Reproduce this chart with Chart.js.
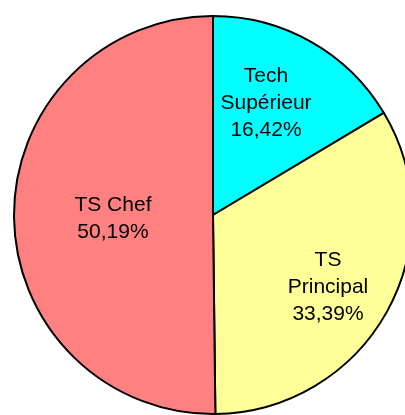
<!DOCTYPE html>
<html>
<head>
<meta charset="utf-8">
<script src="https://cdn.jsdelivr.net/npm/chart.js@4/dist/chart.umd.min.js"></script>
<style>
  html, body { margin: 0; padding: 0; background: #fff; overflow: hidden; }
  #wrap { position: absolute; left: 0; top: 0; }
</style>
</head>
<body>
<div id="wrap"><canvas id="chart" width="426" height="430"></canvas></div>
<script>
// categories, clockwise from 12 o'clock
const categories = ['Tech Supérieur', 'TS Principal', 'TS Chef'];
const labelLines = [['Tech', 'Supérieur'], ['TS', 'Principal'], ['TS Chef']];
const percentages = [16.42, 33.39, 50.19];
const sliceColors = ['#00FFFF', '#FFFF99', '#FF8080'];

// where each label sits: fraction of radius and small angle shift (degrees)
const labelRadius = [0.62, 0.683, 0.503];
const labelShift = [-4.1, 3.0, -1.7];

const pieLabels = {
    id: 'pieLabels',
    afterDatasetsDraw(chart) {
        const ctx = chart.ctx;
        const meta = chart.getDatasetMeta(0);
        ctx.save();
        ctx.fillStyle = '#000';
        ctx.font = '21px "Liberation Sans", Arial, sans-serif';
        ctx.textAlign = 'center';
        ctx.textBaseline = 'middle';
        const lineH = 27;
        meta.data.forEach((arc, i) => {
            const mid = (arc.startAngle + arc.endAngle) / 2 + labelShift[i] * Math.PI / 180;
            const r = arc.outerRadius * labelRadius[i];
            const cx = arc.x + Math.cos(mid) * r;
            const cy = arc.y + Math.sin(mid) * r;
            const lines = labelLines[i].concat([percentages[i].toFixed(2).replace('.', ',') + '%']);
            const top = cy - (lines.length - 1) * lineH / 2;
            lines.forEach((t, k) => ctx.fillText(t, cx, top + k * lineH));
        });
        ctx.restore();
    }
};

new Chart(document.getElementById('chart'), {
    type: 'pie',
    data: {
        labels: categories,
        datasets: [{
            data: percentages,
            backgroundColor: sliceColors,
            borderColor: '#000',
            borderWidth: 2,
            radius: 199
        }]
    },
    options: {
        responsive: false,
        animation: false,
        layout: { padding: 0 },
        plugins: {
            legend: { display: false },
            tooltip: { enabled: false }
        }
    },
    plugins: [pieLabels]
});
</script>
</body>
</html>
